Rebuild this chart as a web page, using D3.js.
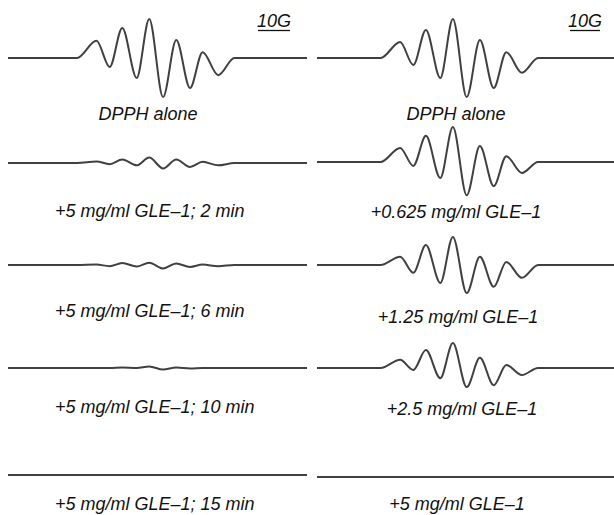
<!DOCTYPE html>
<html>
<head>
<meta charset="utf-8">
<script src="https://cdn.jsdelivr.net/npm/d3@7"></script>
<style>
  html, body { margin: 0; padding: 0; background: #fff; }
  svg { display: block; }
  text { font-family: "Liberation Sans", Arial, sans-serif; font-style: italic; }
</style>
</head>
<body>
<svg id="chart" width="614" height="515"></svg>
<script>
// Magnetic field offsets (G) from the spectrum centre: baseline ends, rise, 10 extrema, return
const field = [-50, -26.5, -20, -15.6, -11.4, -6.6, -2.4, 2.2, 6.6, 11.2, 15.4, 20.6, 26, 52];

// EPR signal intensities (a.u., DPPH alone central peak = 100)
const dpphAloneA = [0, 0, 44, -23, 77, -51, 100, -100, 46, -77, 15, -44, 0, 0];
const gle2min    = [0, 0, 4, -3, 9, -6, 14, -14, 9, -10, 3, -6, 0, 0];
const gle6min    = [0, 0, 1, -3, 5, -4, 6, -9, 4, -5, 1, -3, 0, 0];
const gle10min   = [0, 0, 0, 0, 1, 0, 4, -4, 1, -1, 0, 0, 0, 0];
const gle15min   = [0, 0, 0, 0, 0, 0, 0, 0, 0, 0, 0, 0, 0, 0];

const dpphAloneB = [0, 0, 41, -18, 72, -51, 100, -100, 46, -77, 15, -38, 0, 0];
const gle0625    = [0, 0, 36, -10, 67, -41, 90, -85, 41, -62, 15, -28, 0, 0];
const gle125     = [0, 0, 21, -20, 51, -46, 72, -72, 21, -56, 8, -33, 0, 0];
const gle25      = [0, 0, 21, -5, 46, -26, 64, -49, 26, -44, 8, -18, 0, 0];
const gle5       = [0, 0, 0, 0, 0, 0, 0, 0, 0, 0, 0, 0, 0, 0];

const leftLabels  = ["DPPH alone", "+5 mg/ml GLE\u20131; 2 min", "+5 mg/ml GLE\u20131; 6 min", "+5 mg/ml GLE\u20131; 10 min", "+5 mg/ml GLE\u20131; 15 min"];
const rightLabels = ["DPPH alone", "+0.625 mg/ml GLE\u20131", "+1.25 mg/ml GLE\u20131", "+2.5 mg/ml GLE\u20131", "+5 mg/ml GLE\u20131"];
const scaleLabel = "10G";

const leftSeries  = [dpphAloneA, gle2min, gle6min, gle10min, gle15min];
const rightSeries = [dpphAloneB, gle0625, gle125, gle25, gle5];

const svg = d3.select("#chart");

const panels = [
  { series: leftSeries, labels: leftLabels,
    x: d3.scaleLinear().domain([-49.5, 50.2]).range([8, 307]).clamp(true),
    base: [58, 163, 265, 368, 475],
    labelY: [120, 217, 317, 413, 510],
    labelX: [148, 55, 55, 55, 55],
    anchor: ["middle", "start", "start", "start", "start"],
    bar: [258, 290] },
  { series: rightSeries, labels: rightLabels,
    x: d3.scaleLinear().domain([-47.7, 51.3]).range([317, 614]).clamp(true),
    base: [58, 162, 265, 368, 477],
    labelY: [120, 218, 323, 415, 510],
    labelX: [456, 456, 458, 462, 457],
    anchor: ["middle", "middle", "middle", "middle", "middle"],
    bar: [570, 600] }
];

const y = d3.scaleLinear().domain([-100, 100]).range([39, -39]);

panels.forEach(p => {
  const g = svg.append("g");
  p.series.forEach((s, i) => {
    const pts = field.map((f, k) => [f, s[k]]);
    const line = d3.line()
      .x(d => p.x(d[0]))
      .y(d => p.base[i] + y(d[1]))
      .curve(d3.curveMonotoneX);
    g.append("path")
      .attr("d", line(pts))
      .attr("fill", "none")
      .attr("stroke", "#404040")
      .attr("stroke-width", 2)
      .attr("stroke-linejoin", "round");
    g.append("text")
      .attr("x", p.labelX[i])
      .attr("y", p.labelY[i])
      .attr("text-anchor", p.anchor[i])
      .attr("font-size", 18)
      .attr("fill", "#111")
      .text(p.labels[i]);
  });
  // 10 G scale bar
  g.append("text")
    .attr("x", (p.bar[0] + p.bar[1]) / 2)
    .attr("y", 27)
    .attr("text-anchor", "middle")
    .attr("font-size", 18)
    .attr("fill", "#111")
    .text(scaleLabel);
  g.append("line")
    .attr("x1", p.bar[0]).attr("x2", p.bar[1])
    .attr("y1", 30.5).attr("y2", 30.5)
    .attr("stroke", "#111").attr("stroke-width", 1.3);
});
</script>
</body>
</html>
